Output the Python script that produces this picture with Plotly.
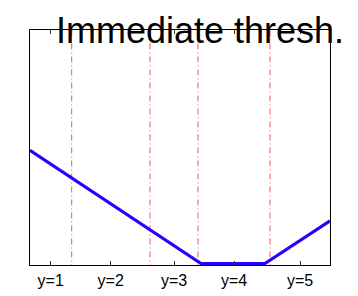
import plotly.graph_objects as go

# Data (latent score axis, arbitrary units)
thresholds = [1.39, 4.0, 5.6, 8.0]
tick_pos = [0.69, 2.69, 4.8, 6.8, 9.0]
tick_labels = ["y=1", "y=2", "y=3", "y=4", "y=5"]
loss_x = [0.0, 5.7, 7.83, 10.0]
loss_y = [5.72, 0.0, 0.0, 2.16]

fig = go.Figure()
for t in thresholds:
    fig.add_trace(go.Scatter(x=[t, t], y=[-1, 20], mode="lines",
                             line=dict(color="rgb(255,80,80)", width=1, dash="6px,3px,1px,3px"),
                             hoverinfo="skip", showlegend=False))
fig.add_trace(go.Scatter(x=loss_x, y=loss_y, mode="lines",
                         line=dict(color="rgb(40,0,255)", width=3),
                         showlegend=False))

fig.update_layout(
    width=358, height=296,
    margin=dict(l=30, r=28, t=30, b=31, autoexpand=False),
    plot_bgcolor="white", paper_bgcolor="white",
    font=dict(family="Liberation Sans, Arial, sans-serif", color="black"),
    annotations=[dict(text="Immediate thresh.", xref="paper", yref="paper",
                      x=0.568, y=1.0, xanchor="center", yanchor="middle",
                      showarrow=False, font=dict(size=36, color="black"))],
)
fig.update_xaxes(range=[0, 10], tickvals=tick_pos, ticktext=tick_labels,
                 ticks="inside", ticklen=4, tickcolor="#333", mirror="allticks",
                 showline=True, linecolor="black", linewidth=1, showgrid=False,
                 zeroline=False, tickfont=dict(size=16), ticklabelstandoff=1,
                 automargin=False)
fig.update_yaxes(range=[-0.07, 11.8], showticklabels=False, ticks="",
                 showline=True, linecolor="black", linewidth=1, mirror=True,
                 showgrid=False, zeroline=False, automargin=False)

fig.write_html("out.html")
